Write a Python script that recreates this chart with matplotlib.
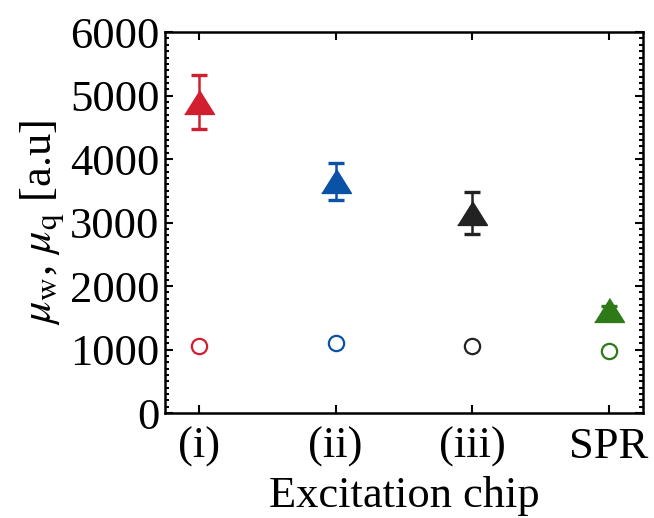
import matplotlib
matplotlib.use('Agg')
import matplotlib.pyplot as plt
from matplotlib.ticker import MultipleLocator

# values
chips = ['(i)', '(ii)', '(iii)', 'SPR']
mu_w = [4900, 3650, 3150, 1630]
mu_w_err = [430, 290, 330, 50]
mu_q = [1060, 1100, 1060, 980]
colors = ['#d21f2f', '#0a52a8', '#222222', '#2f7a18']

plt.rcParams['font.family'] = ['Liberation Serif', 'DejaVu Serif']
plt.rcParams['mathtext.fontset'] = 'stix'

fig = plt.figure(figsize=(6.54, 5.18), dpi=100)
ax = fig.add_axes([0.2523, 0.2027, 0.7307, 0.7353])

tri = [(-1, -0.8), (1, -0.8), (0, 0.8)]
xs = range(1, len(chips) + 1)
for x, w, e, q, c in zip(xs, mu_w, mu_w_err, mu_q, colors):
    ax.errorbar(x, w, yerr=e, fmt='none', ecolor=c, elinewidth=1.8,
                capsize=6, capthick=2.4, zorder=2)
    ax.plot(x, w, marker=tri, markersize=21.5, color=c, linestyle='none', zorder=3)
    ax.plot(x, q, marker='o', markersize=11, markerfacecolor='none',
            markeredgecolor=c, markeredgewidth=1.6, linestyle='none', zorder=3)

ax.set_xlim(0.75, 4.25)
ax.set_ylim(0, 6000)
ax.set_xticks(list(xs))
ax.set_xticklabels(chips)
ax.yaxis.set_major_locator(MultipleLocator(1000))
ax.yaxis.set_minor_locator(MultipleLocator(100))

ax.tick_params(axis='both', which='both', direction='in', top=True, right=True,
               labelsize=32, width=1.5)
ax.tick_params(axis='both', which='major', length=6, pad=4)
ax.tick_params(axis='x', which='major', pad=10)
ax.tick_params(axis='y', which='minor', length=3)
ax.tick_params(axis='x', which='minor', bottom=False, top=False)
for s in ax.spines.values():
    s.set_linewidth(1.8)

ax.set_xlabel('Excitation chip', fontsize=32, labelpad=6)
ax.set_ylabel(r'$\mu_{\rm w}$, $\mu_{\rm q}$ [a.u]', fontsize=32, labelpad=2)

fig.savefig('out.png', dpi=100, facecolor='white')
